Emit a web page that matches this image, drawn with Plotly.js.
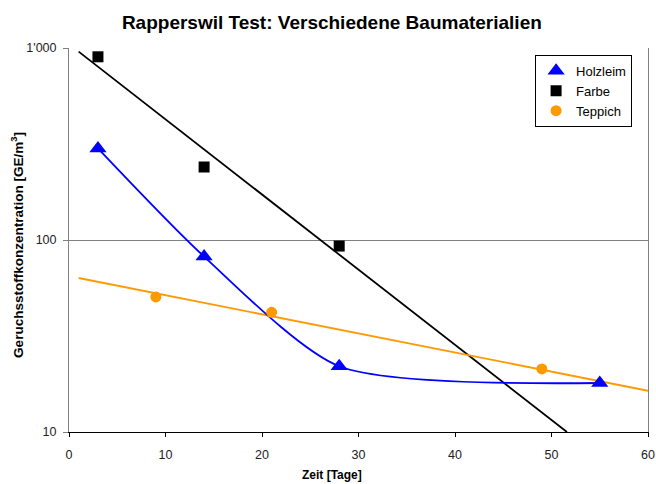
<!DOCTYPE html>
<html>
<head>
<meta charset="utf-8">
<script src="https://cdn.plot.ly/plotly-3.0.1.min.js"></script>
<style>html,body{margin:0;padding:0;background:#fff;}#chart{width:656px;height:484px;}</style>
</head>
<body>
<div id="chart"></div>
<script>
// Data
const holzleimX = [3, 14, 28, 55];
const holzleimY = [300, 82, 22, 18];
const farbeX = [3, 14, 28];
const farbeY = [900, 240, 93];
const teppichX = [9, 21, 49];
const teppichY = [50.5, 42, 21.3];
// Exponential trend lines (endpoints)
const farbeTrendX = [1, 51.6];
const farbeTrendY = [957, 10];
const teppichTrendX = [1, 60];
const teppichTrendY = [63.4, 16.4];
// Tick labels
const yTickVals = [10, 100, 1000];
const yTickText = ['10', '100', "1'000"];
const xTickVals = [0, 10, 20, 30, 40, 50, 60];

const FONT = 'Arial, "Liberation Sans", sans-serif';

const traces = [
  {x: farbeTrendX, y: farbeTrendY, mode: 'lines', line: {color: '#000000', width: 1.8}, showlegend: false, hoverinfo: 'skip'},
  {x: teppichTrendX, y: teppichTrendY, mode: 'lines', line: {color: '#FF9900', width: 1.8}, showlegend: false, hoverinfo: 'skip'},
  {x: holzleimX, y: holzleimY, mode: 'lines', line: {color: '#0000FF', width: 1.8, shape: 'spline', smoothing: 0.7}, showlegend: false, hoverinfo: 'skip'},
  {x: holzleimX, y: holzleimY, mode: 'markers', name: 'Holzleim', marker: {symbol: 'triangle-up', size: 15, color: '#0000FF'}},
  {x: farbeX, y: farbeY, mode: 'markers', name: 'Farbe', marker: {symbol: 'square', size: 11, color: '#000000'}},
  {x: teppichX, y: teppichY, mode: 'markers', name: 'Teppich', marker: {symbol: 'circle', size: 11, color: '#FF9900'}}
];

const layout = {
  width: 656, height: 484,
  margin: {l: 69, r: 8, t: 48, b: 52},
  paper_bgcolor: '#ffffff', plot_bgcolor: '#ffffff',
  font: {family: FONT, size: 12, color: '#000000'},
  title: {
    text: 'Rapperswil Test: Verschiedene Baumaterialien',
    font: {family: FONT, size: 19, weight: 'bold', color: '#000000'},
    xref: 'paper', x: 0.454, xanchor: 'center',
    yref: 'container', y: 0.953, yanchor: 'middle'
  },
  xaxis: {
    range: [0, 60], tickvals: xTickVals,
    showline: true, linecolor: '#000000', linewidth: 1,
    ticks: 'outside', ticklen: 4, tickcolor: '#000000',
    ticklabelstandoff: 7,
    showgrid: false, zeroline: false,
    tickfont: {family: FONT, size: 12.5, color: '#222222'}
  },
  yaxis: {
    type: 'log', range: [1, 3], tickvals: yTickVals, ticktext: yTickText,
    showline: true, linecolor: '#808080', linewidth: 1, mirror: true,
    ticks: 'outside', ticklen: 5, tickcolor: '#808080',
    ticklabelstandoff: 4,
    showgrid: true, gridcolor: '#808080', gridwidth: 1,
    zeroline: false,
    tickfont: {family: FONT, size: 12.5, color: '#222222'}
  },
  legend: {
    x: 0.805, y: 0.982, xanchor: 'left', yanchor: 'top',
    bgcolor: '#ffffff', bordercolor: '#000000', borderwidth: 1,
    font: {family: FONT, size: 13, color: '#000000'},
    tracegroupgap: 0
  },
  annotations: [
    {text: 'Zeit [Tage]', xref: 'paper', yref: 'paper', x: 0.454, y: -0.113, xanchor: 'center', yanchor: 'middle',
     showarrow: false, font: {family: FONT, size: 12, weight: 'bold', color: '#000000'}},
    {text: 'Geruchsstoffkonzentration [GE/m<sup>3</sup>]', xref: 'paper', yref: 'paper', x: -0.09, y: 0.487,
     xanchor: 'center', yanchor: 'middle', textangle: -90, showarrow: false,
     font: {family: FONT, size: 13.5, weight: 'bold', color: '#000000'}}
  ],
  showlegend: true
};

Plotly.newPlot('chart', traces, layout, {displayModeBar: false, staticPlot: true});
</script>
</body>
</html>
